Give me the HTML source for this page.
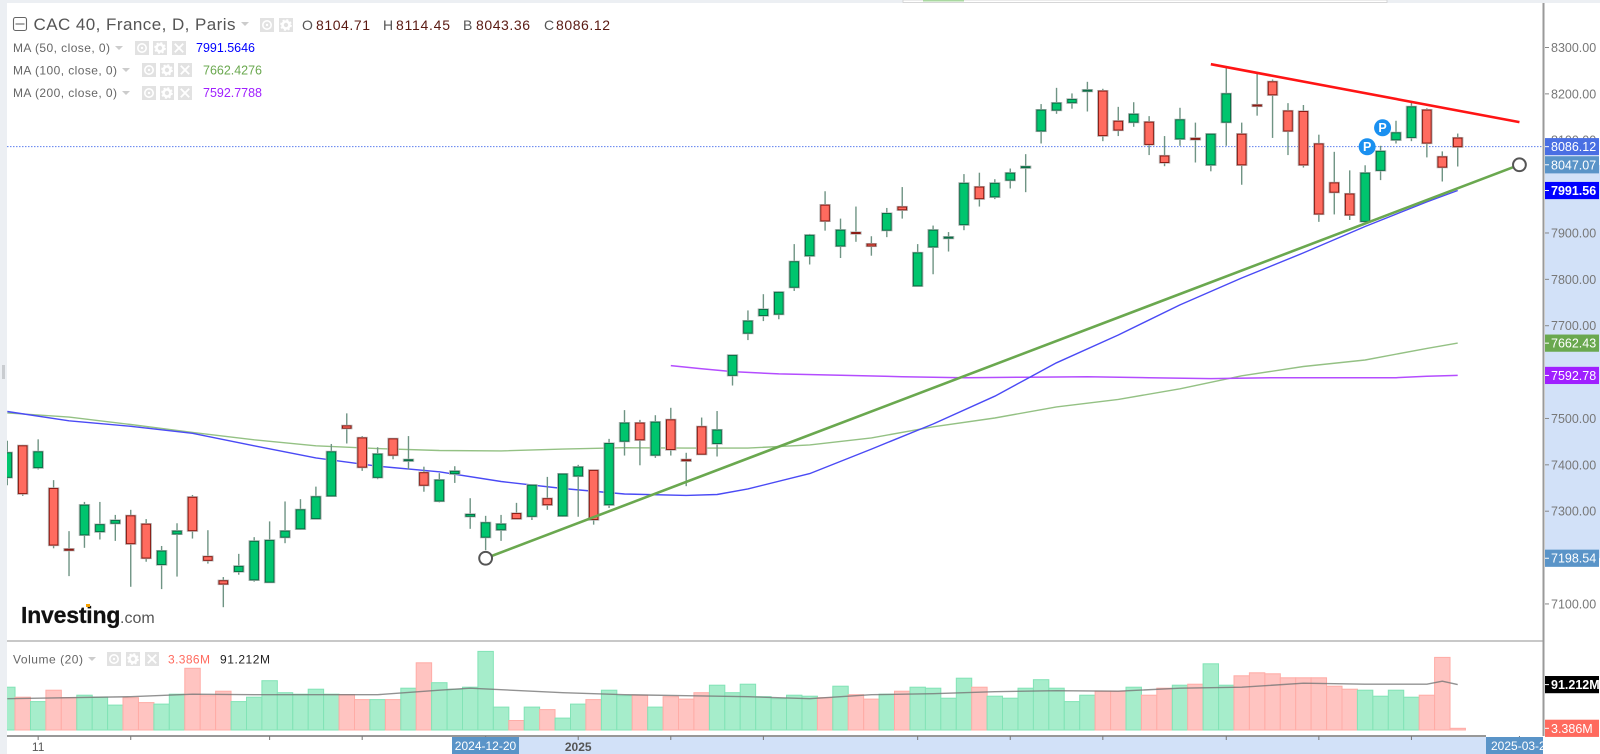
<!DOCTYPE html>
<html lang="en">
<head>
<meta charset="utf-8">
<title>CAC 40 daily chart</title>
<style>
html,body{margin:0;padding:0;background:#fff;width:1600px;height:754px;overflow:hidden}
svg{display:block;font-family:"Liberation Sans",Arial,sans-serif}
polyline{stroke-linejoin:round}
</style>
</head>
<body>
<svg id="chart" xmlns="http://www.w3.org/2000/svg" width="1600" height="754" viewBox="0 0 1600 754">
  <defs>
    <clipPath id="plot-clip"><rect x="7" y="3" width="1536" height="733"/></clipPath>
  </defs>
  <rect x="0" y="0" width="1600" height="754" fill="#ffffff"/>
  <rect x="0" y="0" width="1600" height="3" fill="#eceff3"/>
  <rect x="0" y="0" width="7" height="754" fill="#eceff3"/>
  <rect x="2" y="365" width="3" height="14" fill="#c9ccd0"/>
  <rect x="903" y="0" width="484" height="2.5" fill="#ffffff" stroke="#cfcfcf" stroke-width="0.8"/>
  <rect x="923" y="0" width="41" height="1.5" fill="#a9d8a0"/>
  <rect x="519" y="737" width="967" height="17" fill="#d2e1f8"/>
  <rect x="1545" y="165" width="55" height="393" fill="#d2e1f8"/>
  <g id="volume-layer" clip-path="url(#plot-clip)"></g>
  <g id="price-layer" clip-path="url(#plot-clip)"></g>
  <line x1="7" y1="641" x2="1543" y2="641" stroke="#a8a8a8" stroke-width="1.2"/>
  <line x1="7" y1="736" x2="1486" y2="736" stroke="#777777" stroke-width="1.4"/>
  <line x1="1543.5" y1="3" x2="1543.5" y2="736" stroke="#9a9a9a" stroke-width="2"/>
  <g id="axis-layer"></g>

  <g>
    <text x="21" y="623" font-size="23" font-weight="700" fill="#111111" letter-spacing="-0.2" stroke="#111111" stroke-width="0.3">Investing</text>
    <text x="120" y="623" font-size="16" fill="#555555">.com</text>
    <rect x="86" y="604" width="4" height="3" fill="#f7a100"/>
  </g>

  <g>
    <rect x="13.5" y="17.5" width="13" height="13" rx="2" fill="#ffffff" stroke="#666666" stroke-width="1.1"/>
    <line x1="15.5" y1="24" x2="24.5" y2="24" stroke="#666666" stroke-width="1.1"/>
    <text x="33.5" y="30" font-size="17" fill="#555555" textLength="202" lengthAdjust="spacing">CAC 40, France, D, Paris</text>
    <polygon points="241,22 249,22 245,26" fill="#cccccc"/>
    <text x="302" y="30" font-size="14" fill="#555555">O</text>
    <text x="316" y="30" font-size="14" fill="#5a1a12" textLength="54" lengthAdjust="spacing">8104.71</text>
    <text x="383" y="30" font-size="14" fill="#555555">H</text>
    <text x="396" y="30" font-size="14" fill="#5a1a12" textLength="54" lengthAdjust="spacing">8114.45</text>
    <text x="463" y="30" font-size="14" fill="#555555">B</text>
    <text x="476" y="30" font-size="14" fill="#5a1a12" textLength="54" lengthAdjust="spacing">8043.36</text>
    <text x="544" y="30" font-size="14" fill="#555555">C</text>
    <text x="556" y="30" font-size="14" fill="#5a1a12" textLength="54" lengthAdjust="spacing">8086.12</text>

    <text x="13" y="52" font-size="12" fill="#666666" textLength="97" lengthAdjust="spacing">MA (50, close, 0)</text>
    <polygon points="115,46 123,46 119,50" fill="#cccccc"/>
    <text x="196" y="52" font-size="12.5" fill="#0000ff" textLength="59" lengthAdjust="spacing">7991.5646</text>

    <text x="13" y="74.5" font-size="12" fill="#666666" textLength="104" lengthAdjust="spacing">MA (100, close, 0)</text>
    <polygon points="122,68 130,68 126,72" fill="#cccccc"/>
    <text x="203" y="74.5" font-size="12.5" fill="#6aa84f" textLength="59" lengthAdjust="spacing">7662.4276</text>

    <text x="13" y="97" font-size="12" fill="#666666" textLength="104" lengthAdjust="spacing">MA (200, close, 0)</text>
    <polygon points="122,91 130,91 126,95" fill="#cccccc"/>
    <text x="203" y="97" font-size="12.5" fill="#a020ff" textLength="59" lengthAdjust="spacing">7592.7788</text>

    <text x="13" y="663.5" font-size="12" fill="#666666" textLength="70" lengthAdjust="spacing">Volume (20)</text>
    <polygon points="88,657 96,657 92,661" fill="#cccccc"/>
    <text x="168" y="663.5" font-size="12" fill="#ff6a5e" textLength="42" lengthAdjust="spacing">3.386M</text>
    <text x="220" y="663.5" font-size="12" fill="#222222" textLength="50" lengthAdjust="spacing">91.212M</text>
  </g>
  <g id="icon-layer"></g>
</svg>
<script>
// ---- data ----
const opens = [7373,7441,7394,7349,7218,7249,7256,7274,7290,7272,7185,7251,7330,7202,7150,7170,7152,7147,7244,7262,7284,7333,7484,7458,7373,7456,7409,7383,7322,7381,7289,7244,7260,7295,7289,7327,7290,7376,7388,7314,7451,7490,7421,7497,7411,7482,7446,7593,7684,7722,7725,7783,7851,7960,7872,7901,7876,7906,7956,7786,7870,7889,7918,7999,7978,8014,8041,8120,8165,8181,8206,8206,8141,8139,8139,8066,8103,8104,8047,8139,8113,8176,8226,8163,8162,8092,8008,7984,7925,8035,8101,8106,8165,8064,8104.71];
const highs = [7452,7443,7455,7367,7257,7320,7320,7292,7303,7283,7225,7274,7335,7259,7158,7208,7244,7278,7321,7326,7353,7445,7511,7462,7438,7456,7462,7396,7382,7397,7328,7290,7292,7318,7356,7374,7380,7400,7388,7456,7518,7497,7507,7523,7426,7502,7516,7637,7733,7768,7774,7876,7898,7990,7931,7957,7893,7954,7999,7876,7916,7902,8027,8030,8016,8039,8070,8178,8213,8201,8226,8211,8172,8182,8152,8109,8170,8138,8113,8259,8138,8244,8231,8180,8176,8112,8075,8035,8046,8088,8142,8183,8169,8076,8114.45];
const lows = [7356,7333,7390,7220,7160,7221,7239,7236,7137,7191,7132,7159,7241,7187,7093,7163,7148,7146,7231,7260,7284,7333,7446,7387,7369,7412,7390,7342,7319,7361,7262,7216,7236,7284,7281,7303,7288,7288,7271,7307,7420,7399,7415,7420,7354,7423,7418,7571,7669,7710,7714,7775,7832,7905,7846,7881,7851,7891,7931,7786,7811,7860,7906,7957,7973,7996,7988,8093,8157,8168,8162,8098,8109,8129,8068,8044,8088,8052,8033,8088,8004,8153,8105,8068,8041,7924,7940,7928,7925,8014,8093,8098,8063,8011,8043.36];
const closes = [7426,7338,7428,7227,7217,7313,7271,7280,7230,7199,7214,7257,7258,7194,7143,7181,7235,7237,7257,7303,7331,7428,7479,7395,7423,7421,7411,7356,7367,7386,7293,7275,7272,7284,7356,7314,7380,7395,7282,7446,7490,7454,7492,7433,7409,7423,7475,7636,7710,7735,7772,7838,7895,7926,7906,7899,7872,7942,7950,7857,7906,7891,8007,7974,8007,8029,8043,8165,8180,8188,8208,8110,8122,8156,8091,8052,8144,8102,8113,8200,8047,8174,8198,8120,8047,7941,7988,7939,8029,8076,8116,8172,8094,8042,8086.12];

const volumes = [86,66,57,80,65,70,66,50,65,55,52,72,124,69,78,57,66,99,75,72,82,72,71,61,61,61,84,135,95,82,86,158,46,19,46,41,24,52,61,80,69,70,46,67,62,75,90,75,92,67,63,70,68,65,88,71,62,72,78,86,84,64,104,86,68,64,84,101,84,57,70,78,78,86,70,84,90,92,133,90,109,115,113,105,105,105,88,82,80,68,80,66,70,146,3.386];

const ma50Sessions = [0,4,8,12,16,20,24,28,32,36,40,44,46,48,52,56,60,64,68,72,76,80,84,88,92,94];
const ma50Values = [7515,7495,7483,7468,7441,7415,7397,7385,7364,7349,7337,7334,7336,7348,7381,7434,7488,7548,7620,7680,7745,7803,7857,7914,7967,7991.56];
const ma100Sessions = [0,4,8,12,16,20,24,28,32,36,40,44,48,52,56,60,64,68,72,76,80,84,88,92,94];
const ma100Values = [7512,7503,7487,7470,7454,7441,7435,7431,7430,7434,7437,7436,7436,7443,7458,7482,7501,7525,7541,7564,7592,7612,7626,7651,7662.43];
const ma200Sessions = [43,45,47,50,54,58,62,66,70,74,78,82,86,90,92,94];
const ma200Values = [7614,7607,7601,7596,7593,7590,7588,7589,7590,7588,7586,7588,7588,7588,7591,7592.78];
const volMaSessions = [0,4,8,12,16,20,24,28,30,32,36,40,44,48,52,56,60,64,68,72,76,80,84,88,92,93,94];
const volMaValues = [63,65,67,72,71,71,71,80,84,81,75,71,69,67,63,71,73,77,79,78,84,86,94,92,92,98,91.212];

const priceTicks = [8300,8200,8100,8000,7900,7800,7700,7600,7500,7400,7300,7200,7100];
const timeTickSessions = [2,8,17,23,31,37,43,49,59,65,71,79,85,91,98];
const timeTickLabels = ['11','','','','','2025','','','','','','','','',''];

const supportLine = {sessions:[31,98], prices:[7198.54,8047.07]};
const resistanceLine = {sessions:[78,98], prices:[8264,8139]};
const lastClose = 8086.12;
const markerSessions = [88,89];
const markerPrices = [8086,8127];

const priceFlags = [
  {text:'8086.12', value:8086.12, color:'#4a6fe3', name:'last-price-flag'},
  {text:'8047.07', value:8047.07, color:'#5a94c8', name:'trendline-end-flag'},
  {text:'7991.56', value:7991.56, color:'#0000ff', name:'ma50-flag'},
  {text:'7662.43', value:7662.43, color:'#6aa84f', name:'ma100-flag'},
  {text:'7592.78', value:7592.78, color:'#a020ff', name:'ma200-flag'},
  {text:'7198.54', value:7198.54, color:'#5a94c8', name:'trendline-start-flag'}
];
const volumeFlags = [
  {text:'91.212M', value:91.212, color:'#000000', name:'volume-average-flag'},
  {text:'3.386M', value:3.386, color:'#ff6a5e', name:'volume-current-flag'}
];

// ---- scales ----
const NS = 'http://www.w3.org/2000/svg';
function xAt(i){ return 7.3 + 15.43*i; }
function yPrice(p){ return 47.5 + (8300-p)*0.4637; }
function yVol(v){ return 730 - v*0.4976; }
function make(tag, attrs, parent){
  const el = document.createElementNS(NS, tag);
  for (const k in attrs) el.setAttribute(k, attrs[k]);
  parent.appendChild(el);
  return el;
}
function polyPoints(sessions, values, yFn){
  return sessions.map(function(s,i){ return xAt(s).toFixed(1)+','+yFn(values[i]).toFixed(1); }).join(' ');
}
const priceLayer = document.getElementById('price-layer');
const volumeLayer = document.getElementById('volume-layer');
const axisLayer = document.getElementById('axis-layer');
const iconLayer = document.getElementById('icon-layer');

// ---- volume ----
volumes.forEach(function(v,i){
  const up = closes[i] >= opens[i];
  const bar = make('rect', {x:(xAt(i)-7.7).toFixed(1), y:yVol(v).toFixed(1), width:15.43, height:(730-yVol(v)).toFixed(1),
    fill:up?'#a6edcb':'#ffc4c1', stroke:up?'#82e3b6':'#ffaca6', 'stroke-width':1}, volumeLayer);
  
  
});
const volMa = make('polyline', {points:polyPoints(volMaSessions, volMaValues, yVol), fill:'none', stroke:'#777777', 'stroke-opacity':0.8, 'stroke-width':1.4}, volumeLayer);



// ---- last price line ----
const lastLine = make('line', {x1:7, x2:1543, y1:yPrice(lastClose), y2:yPrice(lastClose), stroke:'#5d7fee', 'stroke-width':1, 'stroke-dasharray':'1.5 1.5'}, priceLayer);



// ---- moving averages ----
const ma100Line = make('polyline', {points:polyPoints(ma100Sessions, ma100Values, yPrice), fill:'none', stroke:'#94c184', 'stroke-width':1.4}, priceLayer);


const ma200Line = make('polyline', {points:polyPoints(ma200Sessions, ma200Values, yPrice), fill:'none', stroke:'#b44dff', 'stroke-width':1.5}, priceLayer);


const ma50Line = make('polyline', {points:polyPoints(ma50Sessions, ma50Values, yPrice), fill:'none', stroke:'#4a4af5', 'stroke-width':1.4}, priceLayer);



// ---- candles ----
opens.forEach(function(o,i){
  const c = closes[i], up = c >= o;
  const x = xAt(i);
  const top = yPrice(Math.max(o,c)), bot = yPrice(Math.min(o,c));
  const g = make('g', {}, priceLayer);
  
  
  make('line', {x1:x, x2:x, y1:yPrice(highs[i]), y2:yPrice(lows[i]), stroke:'#6f9484', 'stroke-width':1.4}, g);
  make('rect', {x:x-5.2, y:top-0.6, width:10.4, height:Math.max(bot-top,1)+1.2, fill:'none', stroke:'#b5b5b5', 'stroke-width':1}, g);
  make('rect', {x:x-4.3, y:top, width:8.6, height:Math.max(bot-top,1), fill:up?'#00c56e':'#ff6b5f', stroke:up?'#0a6e45':'#8a1c14', 'stroke-width':1}, g);
});

// ---- drawn trendlines ----
const supLine = make('line', {x1:xAt(supportLine.sessions[0]), y1:yPrice(supportLine.prices[0]), x2:xAt(supportLine.sessions[1]), y2:yPrice(supportLine.prices[1]), stroke:'#6aa84f', 'stroke-width':2.6}, priceLayer);


const resLine = make('line', {x1:xAt(resistanceLine.sessions[0]), y1:yPrice(resistanceLine.prices[0]), x2:xAt(resistanceLine.sessions[1]), y2:yPrice(resistanceLine.prices[1]), stroke:'#ff1414', 'stroke-width':2.6}, priceLayer);


[0,1].forEach(function(k){
  const h = make('circle', {cx:xAt(supportLine.sessions[k]), cy:yPrice(supportLine.prices[k]), r:6.4, fill:'#ffffff', stroke:'#555555', 'stroke-width':2}, priceLayer);
  
  
});

// ---- P markers ----
markerSessions.forEach(function(s,k){
  const g = make('g', {}, priceLayer);
  
  
  make('circle', {cx:xAt(s)+2, cy:yPrice(markerPrices[k]), r:8.5, fill:'#1a90f0'}, g);
  const t = make('text', {x:xAt(s)+2, y:yPrice(markerPrices[k])+4.5, 'font-size':12.5, 'font-weight':700, fill:'#ffffff', 'text-anchor':'middle'}, g);
  t.textContent = 'P';
});

// ---- price axis ----
priceTicks.forEach(function(p){
  const y = yPrice(p);
  const tick = make('line', {x1:1545, x2:1549, y1:y, y2:y, stroke:'#888888', 'stroke-width':1}, axisLayer);
  
  
  const t = make('text', {x:1551, y:y+4.5, 'font-size':12.5, fill:'#777777'}, axisLayer);
  
  
  t.textContent = p.toFixed(2);
});
function flag(f, y, w){
  const g = make('g', {}, axisLayer);
  
  
  make('rect', {x:1545, y:y-8.6, width:w, height:17.2, fill:f.color}, g);
  make('line', {x1:1545, x2:1549, y1:y, y2:y, stroke:'#ffffff', 'stroke-width':1}, g);
  const t = make('text', {x:1551, y:y+4.5, 'font-size':12.5, fill:'#ffffff', 'font-weight':f.text==='7991.56'||f.text==='91.212M'?700:400}, g);
  t.textContent = f.text;
}
priceFlags.forEach(function(f){ flag(f, yPrice(f.value), 54); });
volumeFlags.forEach(function(f){ flag(f, yVol(f.value), 54); });

// ---- time axis ----
timeTickSessions.forEach(function(s,k){
  const x = xAt(s);
  const tick = make('line', {x1:x, x2:x, y1:736, y2:740, stroke:'#777777', 'stroke-width':1}, axisLayer);
  
  
  if (timeTickLabels[k]) {
    const t = make('text', {x:x, y:751, 'font-size':12, fill:'#555555', 'text-anchor':'middle', 'font-weight':timeTickLabels[k]==='2025'?700:400}, axisLayer);
    
    
    t.textContent = timeTickLabels[k];
  }
});
const startBox = make('rect', {x:452, y:737, width:67, height:17, fill:'#5a94c8'}, axisLayer);


const startTxt = make('text', {x:485.5, y:750, 'font-size':12, fill:'#ffffff', 'text-anchor':'middle'}, axisLayer);


startTxt.textContent = '2024-12-20';
const endBox = make('rect', {x:1486, y:737, width:57, height:17, fill:'#5a94c8'}, axisLayer);


const endTxt = make('text', {x:1491, y:750, 'font-size':12, fill:'#ffffff'}, axisLayer);


endTxt.textContent = '2025-03-2';

// ---- legend icon buttons ----
function iconBox(x, y, s, kind){
  const g = make('g', {}, iconLayer);
  
  
  make('rect', {x:x, y:y, width:s, height:s, fill:'#e2e2e2'}, g);
  const cx = x+s/2, cy = y+s/2;
  if (kind === 'visibility') {
    make('circle', {cx:cx, cy:cy, r:s*0.3, fill:'none', stroke:'#ffffff', 'stroke-width':1.6}, g);
    make('circle', {cx:cx, cy:cy, r:1.2, fill:'#ffffff'}, g);
  } else if (kind === 'settings') {
    make('circle', {cx:cx, cy:cy, r:s*0.25, fill:'none', stroke:'#ffffff', 'stroke-width':2.6}, g);
    make('circle', {cx:cx, cy:cy, r:s*0.36, fill:'none', stroke:'#ffffff', 'stroke-width':1.6, 'stroke-dasharray':'2 2'}, g);
  } else {
    make('line', {x1:cx-s*0.3, y1:cy-s*0.3, x2:cx+s*0.3, y2:cy+s*0.3, stroke:'#ffffff', 'stroke-width':1.8}, g);
    make('line', {x1:cx+s*0.3, y1:cy-s*0.3, x2:cx-s*0.3, y2:cy+s*0.3, stroke:'#ffffff', 'stroke-width':1.8}, g);
  }
}
iconBox(260,18,14,'visibility'); iconBox(279,18,14,'settings');
iconBox(135,41,14,'visibility'); iconBox(153,41,14,'settings'); iconBox(172,41,14,'close');
iconBox(142,63,14,'visibility'); iconBox(160,63,14,'settings'); iconBox(178,63,14,'close');
iconBox(142,86,14,'visibility'); iconBox(160,86,14,'settings'); iconBox(178,86,14,'close');
iconBox(107,652,14,'visibility'); iconBox(126,652,14,'settings'); iconBox(145,652,14,'close');
</script>
</body>
</html>
